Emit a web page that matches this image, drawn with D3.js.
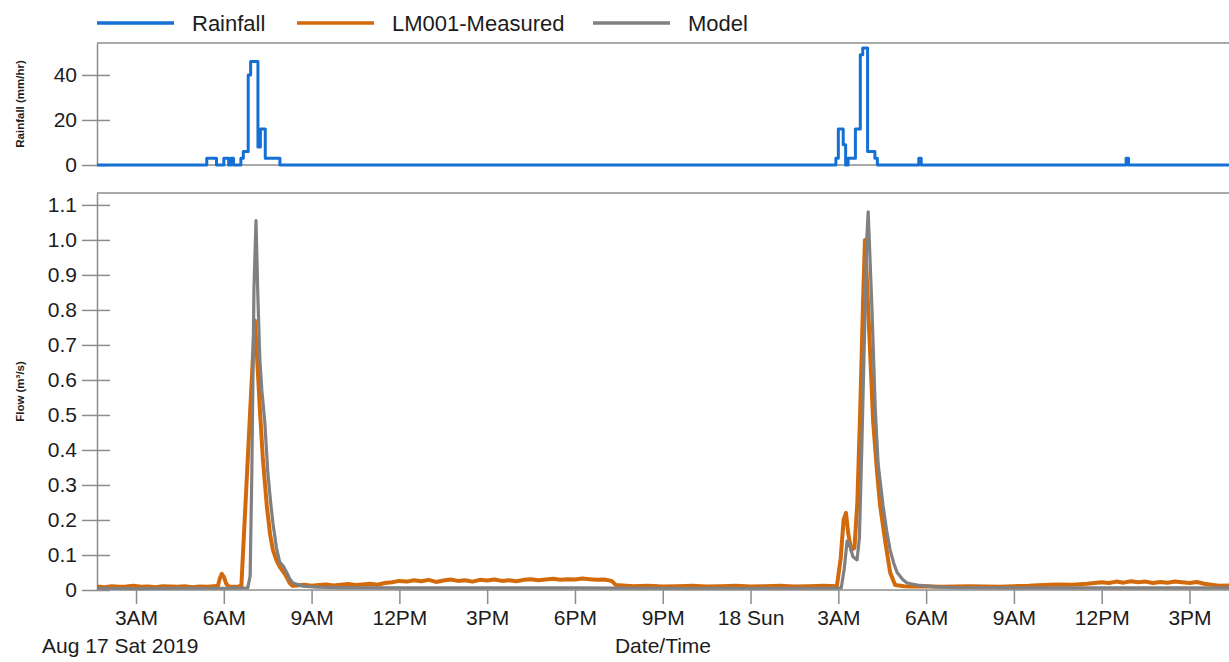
<!DOCTYPE html>
<html>
<head>
<meta charset="utf-8">
<script src="https://cdn.jsdelivr.net/npm/d3@7"></script>
<style>
  body { margin: 0; background: #fff; }
  svg { display: block; font-family: "Liberation Sans", Arial, sans-serif; }
</style>
</head>
<body>
<svg id="chart" width="1229" height="662"></svg>
<script>
// ---- Data -------------------------------------------------------------
// Time window shown on the x axis
const windowStart = "2019-08-17 01:40";
const windowEnd   = "2019-08-18 16:21";

// Rainfall (mm/hr), 5-minute steps; each burst = [start, values...]
const rainBursts = [
  ["2019-08-17 05:25", [3,3,3,3,0,0,0,3,3,0,3,0,0,0,3,6,6,40,46,46,46,8,16,16,3,3,3,3,3,3,0]],
  ["2019-08-18 02:55", [3,16,16,9,0,3,3,3,16,16,49,52,52,6,6,6,3,0]],
  ["2019-08-18 05:45", [3,0]],
  ["2019-08-18 12:50", [3,0]]
];

// Flow (m³/s) as [hours after 2019-08-17 00:00, value]
const measuredFlow = [
  [1.67,0.010],[1.92,0.008],[2.17,0.011],[2.42,0.009],[2.67,0.010],[2.92,0.012],[3.17,0.009],
  [3.42,0.010],[3.67,0.008],[3.92,0.011],[4.17,0.010],[4.42,0.009],[4.67,0.011],[4.92,0.008],
  [5.17,0.010],[5.42,0.009],[5.67,0.011],[5.80,0.012],
  [5.87,0.035],[5.93,0.046],[6.00,0.038],[6.08,0.018],[6.17,0.010],[6.33,0.009],[6.50,0.010],[6.60,0.012],
  [6.75,0.26],[6.90,0.51],[7.06,0.77],[7.14,0.66],[7.23,0.52],[7.33,0.38],[7.47,0.24],[7.58,0.16],
  [7.68,0.114],[7.80,0.085],[7.91,0.066],[8.05,0.050],[8.15,0.037],[8.25,0.020],[8.35,0.012],
  [8.50,0.013],[8.75,0.015],[9.00,0.012],[9.25,0.014],[9.50,0.016],[9.75,0.013],[10.00,0.015],
  [10.25,0.017],[10.50,0.014],[10.75,0.016],[11.00,0.018],[11.25,0.015],[11.50,0.020],[11.75,0.022],
  [12.00,0.026],[12.25,0.024],[12.50,0.028],[12.75,0.025],[13.00,0.029],[13.25,0.023],[13.50,0.027],
  [13.75,0.030],[14.00,0.026],[14.25,0.028],[14.50,0.024],[14.75,0.029],[15.00,0.027],[15.25,0.030],
  [15.50,0.026],[15.75,0.028],[16.00,0.025],[16.25,0.029],[16.50,0.031],[16.75,0.028],[17.00,0.030],
  [17.25,0.032],[17.50,0.029],[17.75,0.031],[18.00,0.030],[18.25,0.033],[18.50,0.031],[18.75,0.029],
  [19.00,0.030],[19.25,0.026],[19.40,0.014],[19.75,0.012],[20.00,0.011],[20.50,0.012],[21.00,0.010],
  [21.50,0.011],[22.00,0.012],[22.50,0.010],[23.00,0.011],[23.50,0.012],[24.00,0.010],[24.50,0.011],
  [25.00,0.012],[25.50,0.010],[26.00,0.011],[26.50,0.012],[26.95,0.011],
  [27.08,0.09],[27.18,0.20],[27.26,0.22],[27.34,0.16],[27.44,0.115],[27.55,0.12],[27.65,0.25],
  [27.75,0.52],[27.85,0.84],[27.91,1.00],[27.98,0.88],[28.09,0.67],[28.19,0.48],[28.33,0.33],
  [28.43,0.24],[28.60,0.14],[28.77,0.05],[28.94,0.014],
  [29.25,0.011],[29.50,0.010],[30.00,0.011],[30.50,0.009],[31.00,0.010],[31.50,0.011],[32.00,0.010],
  [32.50,0.009],[33.00,0.011],[33.50,0.012],[34.00,0.014],[34.50,0.016],[35.00,0.015],[35.50,0.018],
  [36.00,0.022],[36.25,0.020],[36.50,0.024],[36.75,0.021],[37.00,0.025],[37.25,0.022],[37.50,0.024],
  [37.75,0.020],[38.00,0.023],[38.25,0.021],[38.50,0.024],[38.75,0.022],[39.00,0.020],[39.25,0.023],
  [39.50,0.018],[39.75,0.015],[40.00,0.012],[40.35,0.013]
];

const modelFlow = [
  [1.67,0.005],[3.00,0.004],[4.50,0.005],[6.00,0.005],[6.82,0.006],
  [6.90,0.04],[6.96,0.35],[7.03,0.86],[7.10,1.055],[7.16,0.85],[7.23,0.66],[7.30,0.57],[7.40,0.48],
  [7.50,0.34],[7.60,0.25],[7.68,0.19],[7.80,0.12],[7.91,0.08],[8.05,0.066],[8.15,0.05],[8.25,0.032],
  [8.36,0.02],[8.70,0.011],[9.20,0.008],[10.00,0.007],[12.00,0.006],[15.00,0.006],[18.00,0.006],
  [21.00,0.005],[24.00,0.005],[26.50,0.005],[27.10,0.006],
  [27.20,0.06],[27.30,0.14],[27.38,0.13],[27.50,0.095],[27.64,0.086],[27.72,0.15],[27.80,0.40],
  [27.90,0.75],[27.97,1.00],[28.02,1.08],[28.08,0.95],[28.15,0.80],[28.26,0.52],[28.36,0.36],
  [28.53,0.24],[28.65,0.17],[28.77,0.114],[28.90,0.075],[29.01,0.05],[29.20,0.03],[29.35,0.02],
  [29.79,0.013],[30.30,0.009],[31.00,0.007],[33.00,0.006],[36.00,0.006],[40.35,0.006]
];

const rainTicks = [0, 20, 40];
const flowTicks = [0, 0.1, 0.2, 0.3, 0.4, 0.5, 0.6, 0.7, 0.8, 0.9, 1.0, 1.1];

const legendItems = [
  { label: "Rainfall",       color: "#1470d2" },
  { label: "LM001-Measured", color: "#d26a0b" },
  { label: "Model",          color: "#808080" }
];

// ---- Layout -----------------------------------------------------------
const left = 97, right = 1229;
const rainTop = 43, rainBottom = 165;
const flowTop = 193, flowBottom = 590;
const axisColor = "#8c8c8c";
const textColor = "#1c1c1c";

const parse = d3.timeParse("%Y-%m-%d %H:%M");
const day0 = parse("2019-08-17 00:00");
const atHour = h => new Date(+day0 + h * 3600e3);

const x = d3.scaleTime().domain([parse(windowStart), parse(windowEnd)]).range([left, right]);
const yRain = d3.scaleLinear().domain([0, 54.2]).range([rainBottom, rainTop]);
const yFlow = d3.scaleLinear().domain([0, 1.134]).range([flowBottom, flowTop]);

const svg = d3.select("#chart");

// clip regions for each panel
const defs = svg.append("defs");
defs.append("clipPath").attr("id", "clipRain").append("rect")
  .attr("x", left).attr("y", rainTop - 4).attr("width", right - left).attr("height", rainBottom - rainTop + 8);
defs.append("clipPath").attr("id", "clipFlow").append("rect")
  .attr("x", left).attr("y", flowTop - 4).attr("width", right - left).attr("height", flowBottom - flowTop + 8);

// ---- Rainfall series ----------------------------------------------------
const rainSeries = [[x.domain()[0], 0]];
rainBursts.forEach(([start, vals]) => {
  const t = parse(start);
  vals.forEach((v, i) => rainSeries.push([new Date(+t + i * 300e3), v]));
});
rainSeries.push([x.domain()[1], 0]);

// ---- Panel frames ---------------------------------------------------------
function frame(top, bottom) {
  svg.append("line").attr("x1", left).attr("x2", right).attr("y1", top).attr("y2", top)
    .attr("stroke", axisColor).attr("stroke-width", 1.5);
  svg.append("line").attr("x1", left).attr("x2", right).attr("y1", bottom).attr("y2", bottom)
    .attr("stroke", axisColor).attr("stroke-width", 1.5);
}
frame(rainTop, rainBottom);
frame(flowTop, flowBottom);

function yAxis(scale, ticks, fmt) {
  const g = svg.append("g").attr("transform", `translate(${left},0)`)
    .call(d3.axisLeft(scale).tickValues(ticks).tickFormat(fmt).tickSize(15).tickSizeOuter(0).tickPadding(5));
  g.select(".domain").attr("stroke", axisColor).attr("stroke-width", 1.5);
  g.selectAll(".tick line").attr("x1", 13).attr("stroke", axisColor).attr("stroke-width", 1.5);
  g.selectAll(".tick text").attr("fill", textColor).attr("font-size", 21)
    .attr("font-family", "'Liberation Sans', Arial, sans-serif");
  return g;
}
yAxis(yRain, rainTicks, d3.format("d"));
yAxis(yFlow, flowTicks, d => d === 0 ? "0" : d3.format(".1f")(d));

// x axis with 3-hourly ticks
const hourFmt = d3.timeFormat("%-I%p");
const dayFmt = d3.timeFormat("%-d %a");
const gx = svg.append("g").attr("transform", `translate(0,${flowBottom})`)
  .call(d3.axisBottom(x).ticks(d3.timeHour.every(3))
    .tickFormat(d => d.getHours() === 0 ? dayFmt(d) : hourFmt(d))
    .tickSize(14).tickSizeOuter(0).tickPadding(6));
gx.select(".domain").remove();
gx.selectAll(".tick line").attr("stroke", axisColor).attr("stroke-width", 1.5);
gx.selectAll(".tick text").attr("fill", textColor).attr("font-size", 21)
  .attr("font-family", "'Liberation Sans', Arial, sans-serif");

// ---- Lines --------------------------------------------------------------------
const rainLine = d3.line().curve(d3.curveStepAfter).x(d => x(d[0])).y(d => yRain(d[1]));
svg.append("path").datum(rainSeries).attr("clip-path", "url(#clipRain)")
  .attr("d", rainLine).attr("fill", "none")
  .attr("stroke", legendItems[0].color).attr("stroke-width", 3).attr("stroke-linejoin", "round");

const flowLine = d3.line().x(d => x(atHour(d[0]))).y(d => yFlow(d[1]));
svg.append("g").attr("clip-path", "url(#clipFlow)").selectAll("path")
  .data([[measuredFlow, legendItems[1].color, 4], [modelFlow, legendItems[2].color, 3.2]])
  .join("path")
  .attr("d", d => flowLine(d[0]))
  .attr("fill", "none")
  .attr("stroke", d => d[1])
  .attr("stroke-width", d => d[2])
  .attr("stroke-linejoin", "round")
  .attr("stroke-linecap", "round");

// ---- Axis titles ----------------------------------------------------------------
svg.append("text").attr("transform", `translate(24,${(rainTop + rainBottom) / 2}) rotate(-90)`)
  .attr("text-anchor", "middle").attr("font-size", 11.5).attr("font-weight", "bold")
  .attr("fill", textColor).text("Rainfall (mm/hr)");
svg.append("text").attr("transform", `translate(24,${(flowTop + flowBottom) / 2}) rotate(-90)`)
  .attr("text-anchor", "middle").attr("font-size", 11.5).attr("font-weight", "bold")
  .attr("fill", textColor).text("Flow (m³/s)");

svg.append("text").attr("x", (left + right) / 2).attr("y", 653).attr("text-anchor", "middle")
  .attr("font-size", 21).attr("fill", textColor).text("Date/Time");
svg.append("text").attr("x", 42).attr("y", 653)
  .attr("font-size", 21).attr("fill", textColor).text("Aug 17 Sat 2019");

// ---- Legend --------------------------------------------------------------------
const legendX = [97, 297, 593];
const leg = svg.append("g").selectAll("g").data(legendItems).join("g")
  .attr("transform", (d, i) => `translate(${legendX[i]},23)`);
leg.append("line").attr("x1", 0).attr("x2", 77).attr("y1", 0).attr("y2", 0)
  .attr("stroke", d => d.color).attr("stroke-width", 3.5);
leg.append("text").attr("x", 95).attr("y", 7.5).attr("font-size", 22)
  .attr("fill", textColor).text(d => d.label);
</script>
</body>
</html>
